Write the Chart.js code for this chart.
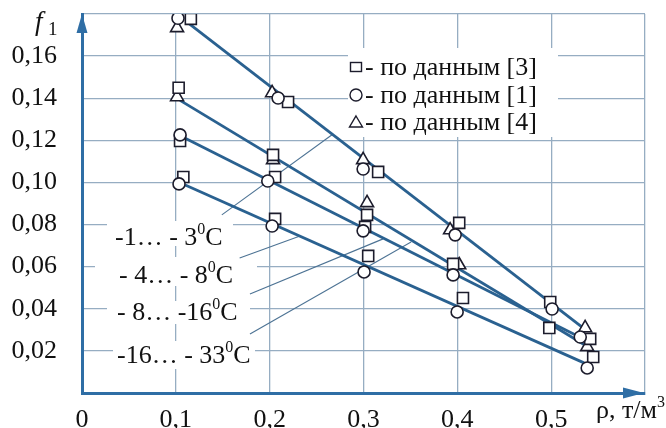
<!DOCTYPE html>
<html>
<head>
<meta charset="utf-8">
<script src="https://cdn.jsdelivr.net/npm/chart.js@4.4.1/dist/chart.umd.min.js"></script>
<style>
  html, body { margin: 0; padding: 0; background: #fff; }
  canvas { display: block; }
</style>
</head>
<body>
<canvas id="fChart" width="666" height="428"></canvas>
<script>
// tick labels
const xTickLabels = ['0', '0,1', '0,2', '0,3', '0,4', '0,5', ''];
const yTickLabels = ['', '0,02', '0,04', '0,06', '0,08', '0,10', '0,12', '0,14', '0,16', ''];

// fitted lines (start / end), one per temperature range
const lineX0 = [0.113, 0.1045, 0.11, 0.11];
const lineY0 = [0.1758, 0.139, 0.121, 0.0988];
const lineX1 = [0.534, 0.535, 0.535, 0.535];
const lineY1 = [0.0309, 0.023, 0.0255, 0.0143];

// по данным [3] - squares
const sqX = [0.116, 0.103, 0.1045, 0.108, 0.2196, 0.2036, 0.2058, 0.2058, 0.3156, 0.3038, 0.3017, 0.305, 0.402, 0.3955, 0.406, 0.499, 0.498, 0.5416, 0.5448];
const sqY = [0.1777, 0.145, 0.1197, 0.1026, 0.1382, 0.1131, 0.1026, 0.0827, 0.105, 0.0846, 0.0789, 0.0651, 0.0808, 0.0613, 0.0451, 0.0432, 0.0309, 0.0257, 0.0171];

// по данным [1] - circles
const ciX = [0.1023, 0.1045, 0.1034, 0.209, 0.198, 0.2026, 0.2996, 0.2996, 0.3006, 0.3977, 0.3955, 0.3998, 0.501, 0.531, 0.5384];
const ciY = [0.178, 0.1226, 0.0993, 0.1401, 0.1007, 0.0793, 0.1064, 0.077, 0.0575, 0.0751, 0.0561, 0.0385, 0.0399, 0.0266, 0.0119];

// по данным [4] - triangles
const trX = [0.1013, 0.1013, 0.2026, 0.2036, 0.2996, 0.3038, 0.3923, 0.402, 0.5362, 0.5384];
const trY = [0.1734, 0.1406, 0.1425, 0.1107, 0.1107, 0.0903, 0.0774, 0.0608, 0.0309, 0.0219];

// legend and temperature captions
const legendText = ['- по данным [3]', '- по данным [1]', '- по данным [4]'];
const tempText = ['-1… - 3', '- 4… - 8', '- 8… -16', '-16… - 33'];
// leader lines from captions to the lines (data units)
const leadX0 = [0.149, 0.168, 0.179, 0.179];
const leadY0 = [0.0846, 0.0641, 0.047, 0.028];
const leadX1 = [0.2676, 0.2324, 0.3209, 0.3507];
const leadY1 = [0.123, 0.0746, 0.0732, 0.0717];

const SERIF = '"Liberation Serif", "DejaVu Serif", serif';
const gridColor = '#96adc2';
const axisColor = '#2f6ea5';
const lineColor = '#2a6190';
const markColor = '#1c1c2c';

function pts(xs, ys) {
    return xs.map((x, i) => ({ x: x, y: ys[i] }));
}

const datasets = [];
for (let i = 0; i < lineX0.length; i++) {
    datasets.push({
        data: [{ x: lineX0[i], y: lineY0[i] }, { x: lineX1[i], y: lineY1[i] }],
        showLine: true,
        borderColor: lineColor,
        borderWidth: 2.8,
        pointRadius: 0,
        order: 3
    });
}
datasets.push({ data: pts(trX, trY), pointStyle: 'triangle', pointRadius: 7.5, order: 2 });
datasets.push({ data: pts(ciX, ciY), pointStyle: 'circle', pointRadius: 6, order: 1 });
datasets.push({ data: pts(sqX, sqY), pointStyle: 'rect', pointRadius: 7.8, order: 1 });
datasets.slice(4).forEach(d => {
    d.backgroundColor = '#fff';
    d.borderColor = markColor;
    d.borderWidth = 1.6;
    d.showLine = false;
});

function superText(ctx, x, y, main, sup, tail, size) {
    ctx.font = size + 'px ' + SERIF;
    ctx.fillText(main, x, y);
    x += ctx.measureText(main).width;
    ctx.font = Math.round(size * 0.6) + 'px ' + SERIF;
    ctx.fillText(sup, x, y - size * 0.42);
    x += ctx.measureText(sup).width;
    if (tail) {
        ctx.font = size + 'px ' + SERIF;
        ctx.fillText(tail, x, y);
    }
}

const annotations = {
    id: 'annotations',
    beforeDatasetsDraw(chart) {
        const ctx = chart.ctx;
        const sx = chart.scales.x, sy = chart.scales.y;
        ctx.save();
        // white patches that hide the grid under the captions
        ctx.fillStyle = '#fff';
        ctx.fillRect(107, 221, 126, 25);
        ctx.fillRect(95, 257, 162, 29);
        ctx.fillRect(107, 301, 143, 23);
        ctx.fillRect(113, 341, 142, 28);
        ctx.fillRect(348, 48, 210, 89);
        // leader lines
        ctx.strokeStyle = '#4d7394';
        ctx.lineWidth = 1.1;
        for (let i = 0; i < leadX0.length; i++) {
            ctx.beginPath();
            ctx.moveTo(sx.getPixelForValue(leadX0[i]), sy.getPixelForValue(leadY0[i]));
            ctx.lineTo(sx.getPixelForValue(leadX1[i]), sy.getPixelForValue(leadY1[i]));
            ctx.stroke();
        }
        ctx.restore();
    },
    afterDatasetsDraw(chart) {
        const ctx = chart.ctx;
        const area = chart.chartArea;
        ctx.save();
        ctx.fillStyle = '#111';
        ctx.textBaseline = 'alphabetic';
        ctx.textAlign = 'left';

        // temperature captions
        const capX = [115, 119, 117, 117];
        const capY = [245, 283, 320, 363];
        tempText.forEach((t, i) => superText(ctx, capX[i], capY[i], t, '0', 'C', 26));

        // legend
        const rowY = [67, 95, 122];
        ctx.strokeStyle = markColor;
        ctx.lineWidth = 1.4;
        ctx.strokeRect(350.5, 62.5, 11, 9);
        ctx.beginPath();
        ctx.arc(356, rowY[1], 6, 0, Math.PI * 2);
        ctx.stroke();
        ctx.beginPath();
        ctx.moveTo(356, rowY[2] - 6);
        ctx.lineTo(362.5, rowY[2] + 5);
        ctx.lineTo(349.5, rowY[2] + 5);
        ctx.closePath();
        ctx.stroke();
        ctx.font = '26px ' + SERIF;
        legendText.forEach((t, i) => ctx.fillText(t, 365, rowY[i] + 8));

        // axis names
        ctx.font = 'italic 27px ' + SERIF;
        ctx.fillText('f', 35, 30);
        ctx.font = '19px ' + SERIF;
        ctx.fillText('1', 48, 35);
        superText(ctx, 596, 418, 'ρ, т/м', '3', '', 26);

        // arrow heads on the axes
        ctx.fillStyle = axisColor;
        ctx.beginPath();
        ctx.moveTo(area.left, area.top);
        ctx.lineTo(area.left + 5.5, area.top + 19);
        ctx.lineTo(area.left - 5.5, area.top + 19);
        ctx.closePath();
        ctx.fill();
        ctx.beginPath();
        ctx.moveTo(area.right - 1, area.bottom);
        ctx.lineTo(area.right - 22, area.bottom - 5.5);
        ctx.lineTo(area.right - 22, area.bottom + 5.5);
        ctx.closePath();
        ctx.fill();
        ctx.restore();
    }
};

new Chart(document.getElementById('fChart'), {
    type: 'scatter',
    data: { datasets: datasets },
    options: {
        responsive: false,
        animation: false,
        layout: { padding: { top: 14, right: 21, left: 0, bottom: 0 } },
        plugins: {
            legend: { display: false },
            tooltip: { enabled: false }
        },
        scales: {
            x: {
                type: 'linear',
                min: 0,
                max: 0.6,
                afterFit: s => { s.height = 35; s.paddingLeft = 0; s.paddingRight = 0; },
                ticks: {
                    stepSize: 0.1,
                    padding: 12,
                    color: '#111',
                    font: { family: SERIF, size: 26 },
                    maxRotation: 0,
                    callback: (v, i) => xTickLabels[i]
                },
                grid: { color: gridColor, lineWidth: 1.3, drawTicks: false },
                border: { color: axisColor, width: 3 }
            },
            y: {
                min: 0,
                max: 0.18,
                afterFit: s => { s.width = 82; s.paddingTop = 0; s.paddingBottom = 0; },
                ticks: {
                    stepSize: 0.02,
                    padding: 25,
                    color: '#111',
                    font: { family: SERIF, size: 26 },
                    callback: (v, i) => yTickLabels[i]
                },
                grid: { color: gridColor, lineWidth: 1.3, drawTicks: false },
                border: { color: axisColor, width: 3 }
            }
        }
    },
    plugins: [annotations]
});
</script>
</body>
</html>
